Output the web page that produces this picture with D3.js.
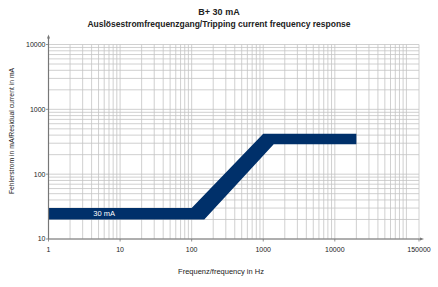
<!DOCTYPE html>
<html>
<head>
<meta charset="utf-8">
<script src="https://cdn.jsdelivr.net/npm/d3@7"></script>
<style>
  body { margin: 0; background: #fff; }
  text { font-family: "Liberation Sans", Arial, sans-serif; fill: #222; }
</style>
</head>
<body>
<svg id="main" width="438" height="287"></svg>
<script>
// axis ticks
const freqTicks = [1, 10, 100, 1000, 10000, 150000];
const currentTicks = [10, 100, 1000, 10000];

// tripping band, upper edge left to right, lower edge right to left
const upperHz = [1, 100, 1000, 20000];
const upperMa = [30, 30, 420, 420];
const lowerHz = [20000, 1400, 150, 1];
const lowerMa = [290, 290, 20, 20];

const bandLabel = '30 mA';

let svg = d3.select('#main');

let x = d3.scaleLog().domain([1, 150000]).range([48.5, 419]);
let y = d3.scaleLog().domain([10, 10000]).range([239, 44.5]);

// log grid values
let xGrid = [];
for (let d = 1; d <= 100000; d *= 10)
  for (let k = 1; k <= 9; k++) if (d * k <= 150000) xGrid.push(d * k);
xGrid.push(150000);
let yGrid = [];
for (let d = 10; d <= 1000; d *= 10)
  for (let k = 1; k <= 9; k++) yGrid.push(d * k);
yGrid.push(10000);

let grid = svg.append('g').attr('class', 'grid')
  .style('stroke', '#c4c4c4')
  .style('stroke-width', 0.8);

grid.selectAll('.vx').data(xGrid).join('line')
  .attr('class', 'vx')
  .attr('x1', d => x(d)).attr('x2', d => x(d))
  .attr('y1', y(10000)).attr('y2', y(10));

grid.selectAll('.hy').data(yGrid).join('line')
  .attr('class', 'hy')
  .attr('x1', x(1)).attr('x2', x(150000))
  .attr('y1', d => y(d)).attr('y2', d => y(d));

// band
let pts = upperHz.map((f, i) => [x(f), y(upperMa[i])])
  .concat(lowerHz.map((f, i) => [x(f), y(lowerMa[i])]));

svg.append('path')
  .attr('d', d3.line()(pts) + 'Z')
  .style('fill', '#00306a');

svg.append('text')
  .attr('x', x(10) - 16)
  .attr('y', y(Math.sqrt(upperMa[0] * lowerMa[3])) + 2.6)
  .attr('text-anchor', 'middle')
  .style('font-size', '7.5px')
  .style('fill', '#fff')
  .text(bandLabel);

// axes
let axisColor = '#777';
let ax = svg.append('g').style('stroke', axisColor).style('stroke-width', 1.2);
ax.append('line').attr('x1', x(1)).attr('x2', x(150000) + 2)
  .attr('y1', y(10)).attr('y2', y(10));
ax.append('line').attr('x1', x(1)).attr('x2', x(1))
  .attr('y1', y(10)).attr('y2', y(10000) - 8);

svg.append('path')
  .attr('d', `M${x(150000) + 5},${y(10)} l-4,-1.5 l0,3 Z`)
  .style('fill', axisColor);
svg.append('path')
  .attr('d', `M${x(1)},${y(10000) - 10} l-1.5,4 l3,0 Z`)
  .style('fill', axisColor);

// tick marks + labels
svg.selectAll('.xt').data(freqTicks).join('line')
  .attr('class', 'xt')
  .attr('x1', d => x(d)).attr('x2', d => x(d))
  .attr('y1', y(10)).attr('y2', y(10) + 2.5)
  .style('stroke', axisColor).style('stroke-width', 0.8);

svg.selectAll('.xl').data(freqTicks).join('text')
  .attr('class', 'xl')
  .attr('x', d => x(d))
  .attr('y', y(10) + 13)
  .attr('text-anchor', 'middle')
  .style('font-size', '7px')
  .text(d => d);

svg.selectAll('.yt').data(currentTicks).join('line')
  .attr('class', 'yt')
  .attr('x1', x(1) - 2.5).attr('x2', x(1))
  .attr('y1', d => y(d)).attr('y2', d => y(d))
  .style('stroke', axisColor).style('stroke-width', 0.8);

svg.selectAll('.yl').data(currentTicks).join('text')
  .attr('class', 'yl')
  .attr('x', x(1) - 3)
  .attr('y', d => y(d) + 2.4)
  .attr('text-anchor', 'end')
  .style('font-size', '7px')
  .text(d => d);

// titles
svg.append('text')
  .attr('x', 219).attr('y', 15)
  .attr('text-anchor', 'middle')
  .style('font-size', '9px').style('font-weight', 'bold')
  .text('B+ 30 mA');

svg.append('text')
  .attr('x', 219).attr('y', 26.5)
  .attr('text-anchor', 'middle')
  .style('font-size', '8.5px').style('font-weight', 'bold')
  .text('Auslösestromfrequenzgang/Tripping current frequency response');

svg.append('text')
  .attr('x', 221).attr('y', 274)
  .attr('text-anchor', 'middle')
  .style('font-size', '7.5px')
  .text('Frequenz/frequency in Hz');

svg.append('text')
  .attr('transform', 'translate(14,131) rotate(-90)')
  .attr('text-anchor', 'middle')
  .style('font-size', '6.8px')
  .text('Fehlerstrom in mA/Residual current in mA');
</script>
</body>
</html>
